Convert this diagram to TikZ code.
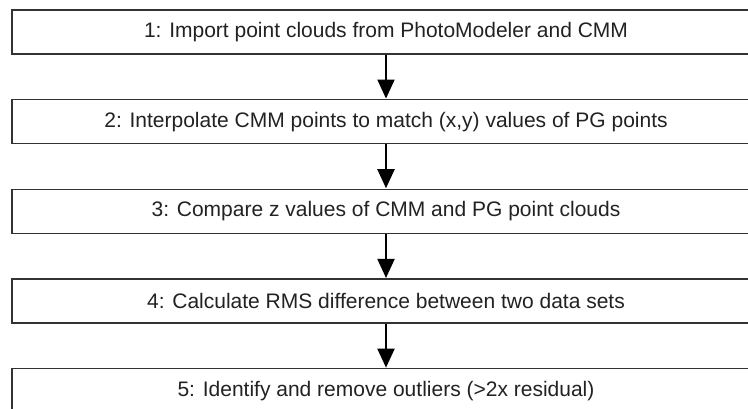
\documentclass[tikz,border=0pt]{standalone}
\usepackage{fontspec}
\setmainfont{Liberation Sans}
\usetikzlibrary{arrows.meta}
\definecolor{edge}{HTML}{333333}
\definecolor{txt}{HTML}{222222}
\tikzset{
  stepbox/.style={draw=edge, line width=1.3pt, fill=white, rectangle,
    minimum width=748pt, minimum height=44pt, inner sep=0pt,
    font=\fontsize{21pt}{24pt}\selectfont, text=txt},
  flow/.style={draw=black, line width=2pt,
    -{Triangle[width=17pt,length=19pt]}, shorten >=0.5pt}
}
\begin{document}
\begin{tikzpicture}[x=1pt,y=-1pt]
\useasboundingbox (0,0) rectangle (748,409);
\clip (0,0) rectangle (748,409);
\node[stepbox] (s1) at (386,32)    {1: Import point clouds from PhotoModeler and CMM};
\node[stepbox] (s2) at (386,121.7) {2: Interpolate CMM points to match (x,y) values of PG points};
\node[stepbox] (s3) at (386,211.4) {3: Compare z values of CMM and PG point clouds};
\node[stepbox] (s4) at (386,301.1) {4: Calculate RMS difference between two data sets};
\node[stepbox] (s5) at (386,390.8) {5: Identify and remove outliers (>2x residual)};
\draw[flow] (s1.south) -- (s2.north);
\draw[flow] (s2.south) -- (s3.north);
\draw[flow] (s3.south) -- (s4.north);
\draw[flow] (s4.south) -- (s5.north);
\end{tikzpicture}
\end{document}
